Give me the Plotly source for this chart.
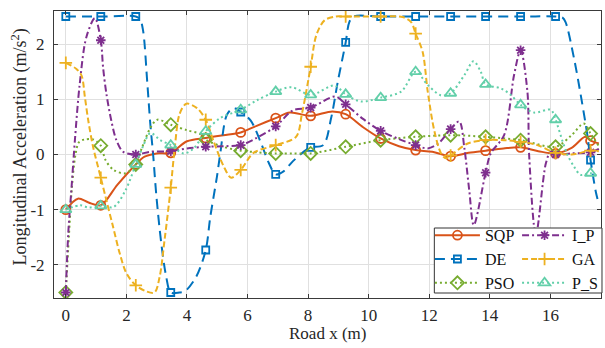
import plotly.graph_objects as go

# ---------------- data ----------------
MARKER_X = [0, 1.155, 2.31, 3.465, 4.62, 5.775, 6.93, 8.085, 9.24, 10.395,
            11.55, 12.705, 13.86, 15.015, 16.17, 17.325]
X_TICKS = [0, 2, 4, 6, 8, 10, 12, 14, 16]
Y_TICKS = [-2, -1, 0, 1, 2]
Y_TICKTEXT = ["-2", "-1", "0", "1", "2"]
X_TITLE = "Road x (m)"
Y_TITLE = "Longitudinal Acceleration (m/s<sup>2</sup>)"

SQP_X = [0, 0.4, 0.75, 1.155, 1.7, 2.31, 2.6, 3.0, 3.465, 4.0, 4.62, 5.2, 5.775,
         6.3, 6.93, 7.4, 8.085, 8.8, 9.24, 9.8, 10.395, 11.0, 11.55, 12.1, 12.705,
         13.3, 13.86, 14.45, 15.015, 15.6, 16.17, 16.7, 17.15, 17.325, 17.6]
SQP_Y = [-1.0, -0.8, -0.87, -0.92, -0.55, -0.18, -0.04, 0.02, 0.03, 0.24, 0.3,
         0.35, 0.4, 0.52, 0.66, 0.76, 0.7, 0.78, 0.73, 0.5, 0.29, 0.15, 0.08, 0.05,
         -0.03, 0.03, 0.07, 0.11, 0.13, 0.06, 0.02, 0.12, 0.32, 0.25, 0.2]

DE_X = [0, 1.155, 2.31, 2.45, 2.55, 2.69, 2.79, 2.88, 2.99, 3.15, 3.31, 3.465,
        3.75, 3.95, 4.31, 4.62, 4.77, 4.99, 5.1, 5.32, 5.54, 5.775, 6.1, 6.45,
        6.7, 6.93, 7.2, 7.5, 7.9, 8.085, 8.5, 8.76, 8.98, 9.24, 9.36, 9.5, 10.395,
        11.55, 12.705, 13.86, 15.015, 16.17, 16.4, 16.5, 16.78, 17.0, 17.22,
        17.325, 17.5, 17.6]
DE_Y = [2.5, 2.5, 2.5, 2.45, 2.25, 1.3, 0.55, 0.02, -0.75, -1.6, -2.2, -2.5,
        -2.5, -2.47, -2.21, -1.73, -1.13, -0.4, 0.02, 0.72, 0.84, 0.77, 0.62,
        0.2, -0.15, -0.36, -0.3, -0.12, 0.07, 0.13, 0.17, 0.66, 1.32, 2.03, 2.4,
        2.5, 2.5, 2.5, 2.5, 2.5, 2.5, 2.5, 2.48, 2.4, 1.74, 1.08, 0.35, -0.1,
        -0.68, -0.9]

PSO_X = [0, 0.1, 0.2, 0.32, 0.43, 0.6, 0.92, 1.155, 1.31, 1.58, 1.97, 2.31, 2.5,
         2.79, 3.02, 3.465, 4.0, 4.44, 4.62, 5.19, 5.65, 5.775, 6.3, 6.93, 7.5,
         8.085, 9.24, 10.395, 11.55, 12.705, 13.86, 15.015, 16.17, 16.7, 17.1,
         17.325, 17.6]
PSO_Y = [-2.5, -1.5, -0.6, 0.0, 0.22, 0.27, 0.27, 0.16, -0.1, -0.28, -0.34,
         -0.18, 0.1, 0.48, 0.63, 0.54, 0.44, 0.37, 0.27, 0.14, 0.08, 0.07, 0.04,
         0.02, 0.02, 0.02, 0.14, 0.26, 0.32, 0.35, 0.32, 0.26, 0.14, 0.35, 0.56,
         0.38, 0.15]

IP_X = [0, 0.08, 0.19, 0.3, 0.46, 0.68, 0.96, 1.155, 1.23, 1.34, 1.5, 1.67, 1.89,
        2.31, 2.79, 3.465, 4.0, 4.62, 5.2, 5.775, 6.3, 6.93, 7.5, 8.085, 8.9, 9.24,
        9.8, 10.395, 11.0, 11.55, 11.95, 12.3, 12.705, 12.99, 13.16, 13.32, 13.47,
        13.86, 14.03, 14.47, 14.8, 15.015, 15.24, 15.3, 15.52, 15.85, 16.01, 16.17,
        16.7, 17.325, 17.6]
IP_Y = [-2.5, -1.43, -0.59, 0.26, 1.28, 2.13, 2.47, 2.07, 1.58, 1.1, 0.62, 0.26,
        0.05, 0.0, 0.05, 0.06, 0.11, 0.14, 0.15, 0.17, 0.3, 0.51, 0.8, 0.85, 1.05,
        0.91, 0.65, 0.43, 0.28, 0.17, 0.11, 0.2, 0.46, 0.6, 0.11, -0.65, -1.28,
        -0.33, 0.02, 0.35, 1.44, 1.89, 1.14, -0.04, -1.45, -0.16, 0.05, 0.0, 0.02,
        0.04, 0.1]

GA_X = [0, 0.35, 0.52, 0.63, 0.74, 0.9, 1.155, 1.34, 1.56, 1.78, 2.0, 2.31, 2.66,
        2.93, 3.1, 3.26, 3.465, 3.6, 3.76, 3.98, 4.33, 4.62, 4.88, 5.2, 5.46,
        5.775, 6.2, 6.93, 7.6, 7.8, 8.085, 8.27, 8.54, 8.9, 9.24, 10.395, 11.12,
        11.4, 11.55, 11.78, 11.95, 12.17, 12.39, 12.55, 12.705, 13.27, 13.86,
        14.47, 15.015, 15.57, 16.17, 16.7, 17.325, 17.6]
GA_Y = [1.66, 1.55, 1.43, 1.04, 0.62, 0.14, -0.42, -0.83, -1.31, -1.79, -2.15,
        -2.37, -2.48, -2.5, -2.21, -1.55, -0.6, 0.14, 0.74, 0.92, 0.84, 0.63,
        0.24, -0.2, -0.42, -0.28, 0.03, 0.17, 0.32, 0.75, 1.59, 2.16, 2.43, 2.5,
        2.5, 2.5, 2.49, 2.4, 2.19, 1.86, 1.14, 0.42, 0.02, -0.07, -0.02, 0.2,
        0.26, 0.26, 0.23, 0.17, 0.03, 0.0, 0.07, 0.06]

PS_X = [0, 0.48, 0.75, 1.155, 1.58, 1.97, 2.31, 2.55, 2.79, 3.12, 3.465, 3.89,
        4.22, 4.62, 5.1, 5.775, 6.3, 6.93, 7.45, 8.085, 8.87, 9.24, 9.75, 10.395,
        11.07, 11.55, 11.95, 12.39, 12.705, 13.16, 13.46, 13.7, 13.86, 14.36,
        14.69, 15.015, 15.46, 16.01, 16.17, 16.4, 16.56, 16.78, 17.0, 17.325, 17.6]
PS_Y = [-1.0, -0.92, -0.96, -0.93, -0.95, -0.65, -0.18, 0.15, 0.39, 0.26, 0.17,
        0.02, 0.11, 0.42, 0.66, 0.81, 0.98, 1.14, 1.22, 1.08, 1.25, 1.09, 0.96,
        1.03, 1.14, 1.5, 1.26, 1.07, 1.11, 1.44, 1.69, 1.5, 1.27, 1.2, 1.08, 0.9,
        0.76, 0.81, 0.63, 0.24, 0.0, -0.22, -0.37, -0.34, -0.4]

# ---------------- styles ----------------
FONT = "Liberation Serif"
TXT = "#262626"
SERIES = [
    # name, x, y, color, dash, symbol, msize, legend
    ("SQP", SQP_X, SQP_Y, "#D95319", "solid", "circle-open", 9, "legend"),
    ("DE", DE_X, DE_Y, "#0072BD", "10px,6px", "square-open", 7, "legend"),
    ("PSO", PSO_X, PSO_Y, "#77AC30", "2px,3px", "diamond-open", 10, "legend"),
    ("I_P", IP_X, IP_Y, "#7E2F8E", "7px,3px,2px,3px", "asterisk-open", 8, "legend2"),
    ("GA", GA_X, GA_Y, "#EDB120", "6px,3px", "cross-thin-open", 9, "legend2"),
    ("P_S", PS_X, PS_Y, "#62CFA9", "2px,3px", "triangle-up-open", 10, "legend2"),
]
LW = 2

fig = go.Figure()
for name, xs, ys, color, dash, symbol, msize, leg in SERIES:
    fig.add_trace(go.Scatter(
        x=xs, y=ys, mode="lines", showlegend=False, hoverinfo="skip",
        line=dict(color=color, width=LW, dash=dash, shape="spline", smoothing=0.9)))
    keep = [i for i, x in enumerate(xs) if any(abs(x - m) < 1e-6 for m in MARKER_X)]
    fig.add_trace(go.Scatter(
        x=[xs[i] for i in keep], y=[ys[i] for i in keep], mode="markers",
        showlegend=False, hoverinfo="skip",
        marker=dict(symbol=symbol, size=msize, color=color,
                    line=dict(color=color, width=1.8))))

# legend entries: two vertical legends side by side inside one box
for name, xs, ys, color, dash, symbol, msize, leg in SERIES:
    fig.add_trace(go.Scatter(
        x=[None], y=[None], mode="lines+markers", name=name, legend=leg,
        line=dict(color=color, width=LW, dash=dash),
        marker=dict(symbol=symbol, size=msize, color=color,
                    line=dict(color=color, width=1.8))))

axis_common = dict(
    showline=True, linecolor="#3a3a3a", linewidth=1, mirror="ticks",
    ticks="inside", ticklen=4, tickcolor="#3a3a3a", tickwidth=1,
    showgrid=True, gridcolor="#E0E0E0", gridwidth=1, zeroline=False,
    tickfont=dict(family=FONT, size=17, color=TXT),
)

legend_common = dict(
    orientation="v", bgcolor="rgba(0,0,0,0)", borderwidth=0, itemwidth=45,
    yanchor="top", y=0.2777, xanchor="left",
    font=dict(family=FONT, size=16, color="#111111"),
)

fig.update_layout(
    width=605, height=348,
    margin=dict(l=54, r=3, t=11, b=50),
    paper_bgcolor="white", plot_bgcolor="white",
    font=dict(family=FONT, size=16, color=TXT),
    xaxis=dict(range=[-0.39, 17.67], tickvals=X_TICKS,
               ticklabelstandoff=2, **axis_common),
    yaxis=dict(range=[-2.6, 2.6], tickvals=Y_TICKS, ticktext=Y_TICKTEXT,
               ticklabelstandoff=5, **axis_common),
    legend=dict(x=0.686, **legend_common),
    legend2=dict(x=0.845, **legend_common),
    shapes=[dict(type="rect", xref="paper", yref="paper",
                 x0=0.6953, x1=1.0018, y0=0.0174, y1=0.2439, layer="above",
                 fillcolor="white", line=dict(color="#333333", width=1))],
    annotations=[
        dict(text=X_TITLE, xref="paper", yref="paper", x=0.5, y=-0.124,
             xanchor="center", yanchor="middle", showarrow=False,
             font=dict(family=FONT, size=17, color=TXT)),
        dict(text=Y_TITLE, xref="paper", yref="paper", x=-0.062, y=0.525,
             xanchor="center", yanchor="middle", showarrow=False, textangle=-90,
             font=dict(family=FONT, size=18, color=TXT)),
    ],
)

fig.write_html("out.html")
